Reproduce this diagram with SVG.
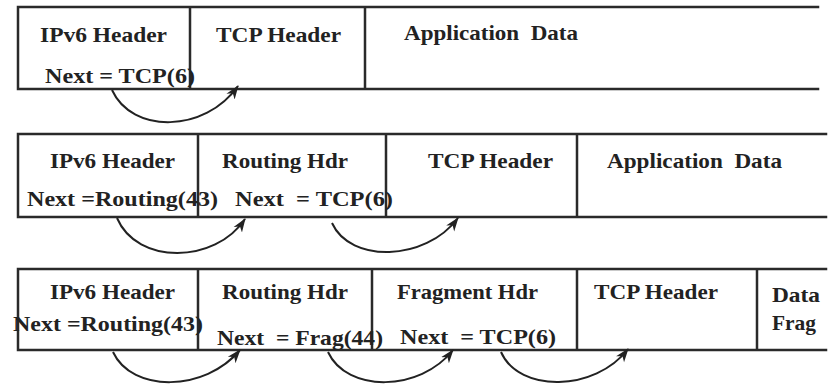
<svg xmlns="http://www.w3.org/2000/svg" width="836" height="384" viewBox="0 0 836 384">
<style>
.frame{stroke:#2a2a2a;stroke-width:2.5;fill:none;stroke-linecap:square}
.t{font-family:'Liberation Serif','DejaVu Serif','Times New Roman',serif;font-weight:bold;font-size:21px;fill:#222}
.arc{stroke:#222;stroke-width:2;fill:none;marker-end:url(#ah)}
</style>
<defs>
<marker id="ah" markerUnits="userSpaceOnUse" markerWidth="16" markerHeight="12" refX="13" refY="5" orient="auto" viewBox="0 0 16 10">
<path d="M0,0 L14,5 L0,10 L4,5 Z" fill="#222"/>
</marker>
</defs>
<rect width="836" height="384" fill="#fff"/>

<g id="row1">
<path class="frame" d="M18,7 H818 M18,89 H818 M18,7 V89 M190,7 V89 M365,7 V89"/>
<g id="r1-ipv6"><text class="t" x="40" y="42" textLength="127" lengthAdjust="spacingAndGlyphs">IPv6 Header</text>
<text class="t" x="45" y="83" textLength="150" lengthAdjust="spacingAndGlyphs">Next = TCP(6)</text></g>
<g id="r1-tcp"><text class="t" x="216" y="42" textLength="125" lengthAdjust="spacingAndGlyphs">TCP Header</text></g>
<g id="r1-app"><text class="t" x="404" y="40" textLength="174" lengthAdjust="spacingAndGlyphs" xml:space="preserve">Application  Data</text></g>
</g>

<g id="row2">
<path class="frame" d="M18,134 H826 M18,217 H826 M18,134 V217 M198,134 V217 M386,134 V217 M577,134 V217"/>
<g id="r2-ipv6"><text class="t" x="50" y="168" textLength="125" lengthAdjust="spacingAndGlyphs">IPv6 Header</text>
<text class="t" x="27" y="206" textLength="191" lengthAdjust="spacingAndGlyphs">Next =Routing(43)</text></g>
<g id="r2-routing"><text class="t" x="222" y="168" textLength="126" lengthAdjust="spacingAndGlyphs">Routing Hdr</text>
<text class="t" x="235" y="206" textLength="158" lengthAdjust="spacingAndGlyphs" xml:space="preserve">Next  = TCP(6)</text></g>
<g id="r2-tcp"><text class="t" x="428" y="168" textLength="125" lengthAdjust="spacingAndGlyphs">TCP Header</text></g>
<g id="r2-app"><text class="t" x="607" y="168" textLength="175" lengthAdjust="spacingAndGlyphs" xml:space="preserve">Application  Data</text></g>
</g>

<g id="row3">
<path class="frame" d="M18,269 H826 M18,350 H826 M18,269 V350 M198,269 V350 M372,269 V350 M577,269 V350 M757,269 V350"/>
<g id="r3-ipv6"><text class="t" x="50" y="299" textLength="125" lengthAdjust="spacingAndGlyphs">IPv6 Header</text>
<text class="t" x="13" y="331" textLength="190" lengthAdjust="spacingAndGlyphs">Next =Routing(43)</text></g>
<g id="r3-routing"><text class="t" x="222" y="299" textLength="126" lengthAdjust="spacingAndGlyphs">Routing Hdr</text>
<text class="t" x="217" y="345" textLength="166" lengthAdjust="spacingAndGlyphs" xml:space="preserve">Next  = Frag(44)</text></g>
<g id="r3-frag"><text class="t" x="397" y="299" textLength="141" lengthAdjust="spacingAndGlyphs">Fragment Hdr</text>
<text class="t" x="400" y="344" textLength="156" lengthAdjust="spacingAndGlyphs" xml:space="preserve">Next  = TCP(6)</text></g>
<g id="r3-tcp"><text class="t" x="594" y="299" textLength="124" lengthAdjust="spacingAndGlyphs">TCP Header</text></g>
<g id="r3-data"><text class="t" x="772" y="302" textLength="48" lengthAdjust="spacingAndGlyphs">Data</text>
<text class="t" x="772" y="330" textLength="44" lengthAdjust="spacingAndGlyphs">Frag</text></g>
</g>

<g id="connectors">
<path class="arc" d="M112,90 C132,134 205,133 238,86"/>
<path class="arc" d="M117,218 C137,265 215,264 245,219"/>
<path class="arc" d="M332,223 C350,263 425,262 458,218"/>
<path class="arc" d="M113,352 C132,393 205,392 240,350"/>
<path class="arc" d="M328,352 C347,393 420,392 453,350"/>
<path class="arc" d="M501,352 C519,393 595,392 628,349"/>
</g>
</svg>
